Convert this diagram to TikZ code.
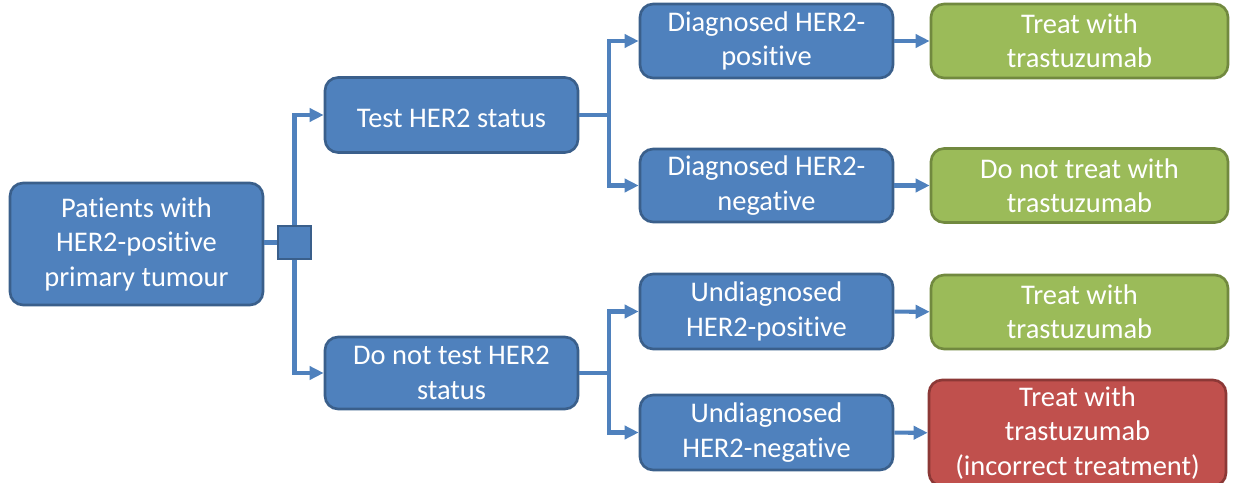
\documentclass[tikz,border=0pt]{standalone}
\usepackage{fontspec}
\setmainfont{Carlito}[Ligatures=NoCommon]
\usetikzlibrary{arrows.meta,positioning}

\definecolor{boxblue}{HTML}{4F81BD}
\definecolor{edgeblue}{HTML}{3A5F8B}
\definecolor{boxgreen}{HTML}{9BBB59}
\definecolor{edgegreen}{HTML}{71893F}
\definecolor{boxred}{HTML}{C0504D}
\definecolor{edgered}{HTML}{8C3836}

\begin{document}
\begin{tikzpicture}[
    x=0.02cm,y=-0.02cm,
    every node/.style={align=center,text=white,font=\fontsize{16.2}{19.6}\selectfont,
        execute at begin node={\rule{0pt}{14.8pt}}},
    choice/.style={rectangle,rounded corners=0.26cm,draw=edgeblue,fill=boxblue,line width=1.5pt,minimum width=5.06cm,inner sep=0pt},
    start/.style={choice,minimum height=2.44cm},
    decision/.style={rectangle,draw=edgeblue,fill=boxblue,line width=1.5pt,minimum size=0.66cm,inner sep=0pt},
    treat/.style={choice,draw=edgegreen,fill=boxgreen,minimum width=5.94cm,minimum height=1.48cm},
    wrong/.style={choice,draw=edgered,fill=boxred,minimum width=5.94cm,minimum height=2.12cm},
    line/.style={draw=boxblue,line width=2.3pt},
    arrow/.style={line,-{Triangle[length=0.28cm,width=0.26cm]}}
]
\useasboundingbox (0,0) rectangle (1235,483);
\clip (0,0) rectangle (1235,483);

% =====================
% START
% =====================
\node[start] (patients) at (136.5,244) {Patients with\\HER2-positive\\primary tumour};
\node[decision] (dec) at (294.5,242.5) {};

% =====================
% STRATEGIES
% =====================
\node[choice,minimum height=1.5cm] (test) at (451.5,115) {Test HER2 status};
\node[choice,minimum height=1.44cm] (notest) at (451.5,373) {Do not test HER2\\status};

% =====================
% DIAGNOSES
% =====================
\node[choice,minimum height=1.48cm] (dpos) at (766.5,41) {Diagnosed HER2-\\positive};
\node[choice,minimum height=1.46cm] (dneg) at (766.5,185.5) {Diagnosed HER2-\\negative};
\node[choice,minimum height=1.5cm] (upos) at (766.5,311.5) {Undiagnosed\\HER2-positive};
\node[choice,minimum height=1.5cm] (uneg) at (766.5,432.5) {Undiagnosed\\HER2-negative};

% =====================
% TREATMENTS
% =====================
\node[treat] (tdpos) at (1079.5,41) {Treat with\\trastuzumab};
\node[treat] (tdneg) at (1079.5,185.5) {Do not treat with\\trastuzumab};
\node[treat] (tupos) at (1079.5,312) {Treat with\\trastuzumab};
\node[wrong] (tuneg) at (1077.5,433) {Treat with\\trastuzumab\\(incorrect treatment)};

% Branch points
\coordinate (tb) at (609,115);
\coordinate (nb) at (609,373);

% Connections
\draw[line] (patients.east |- dec) -- (dec);
\draw[arrow] (dec.north) |- (test.west);
\draw[arrow] (dec.south) |- (notest.west);

\draw[line] (test.east) -- (tb);
\draw[arrow] (tb) |- (dpos.west);
\draw[arrow] (tb) |- (dneg.west);

\draw[line] (notest.east) -- (nb);
\draw[arrow] (nb) |- (upos.west);
\draw[arrow] (nb) |- (uneg.west);

\draw[arrow] (dpos) -- (tdpos);
\draw[arrow] (dneg) -- (tdneg);
\draw[arrow] (upos) -- (tupos);
\draw[arrow] (uneg) -- (tuneg);

\end{tikzpicture}
\end{document}
